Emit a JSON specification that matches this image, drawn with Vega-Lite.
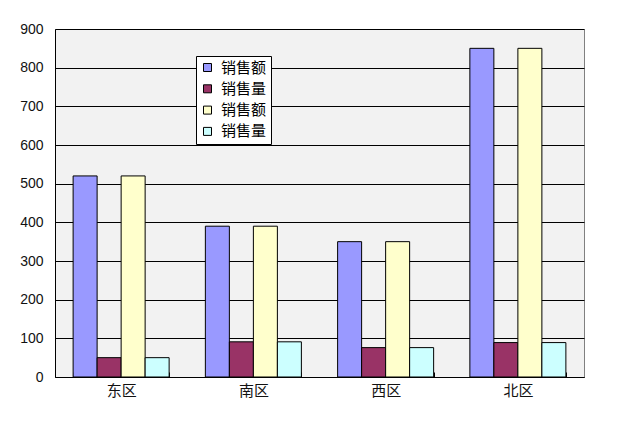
{
  "$schema": "https://vega.github.io/schema/vega-lite/v6.json",
  "width": 529,
  "height": 348,
  "autosize": {"type": "none"},
  "padding": {"left": 55, "top": 29, "right": 39, "bottom": 63},
  "background": "white",
  "data": {
    "values": [
      {"region": "东区", "series": "销售额1", "value": 520},
      {"region": "东区", "series": "销售量1", "value": 50},
      {"region": "东区", "series": "销售额2", "value": 520},
      {"region": "东区", "series": "销售量2", "value": 50},
      {"region": "南区", "series": "销售额1", "value": 390},
      {"region": "南区", "series": "销售量1", "value": 91},
      {"region": "南区", "series": "销售额2", "value": 390},
      {"region": "南区", "series": "销售量2", "value": 91},
      {"region": "西区", "series": "销售额1", "value": 350},
      {"region": "西区", "series": "销售量1", "value": 76},
      {"region": "西区", "series": "销售额2", "value": 350},
      {"region": "西区", "series": "销售量2", "value": 76},
      {"region": "北区", "series": "销售额1", "value": 850},
      {"region": "北区", "series": "销售量1", "value": 89},
      {"region": "北区", "series": "销售额2", "value": 850},
      {"region": "北区", "series": "销售量2", "value": 89}
    ]
  },
  "mark": {"type": "bar", "stroke": "black", "strokeWidth": 1},
  "encoding": {
    "x": {
      "field": "region",
      "type": "nominal",
      "sort": ["东区", "南区", "西区", "北区"],
      "scale": {"paddingInner": 0.274, "paddingOuter": 0.137},
      "axis": {
        "title": null,
        "labelAngle": 0,
        "labelFont": "Noto Sans CJK SC",
        "labelFontSize": 15,
        "labelColor": "#111111",
        "labelPadding": 11,
        "domainColor": "black",
        "ticks": true,
        "tickColor": "black",
        "tickWidth": 1,
        "tickOpacity": 1,
        "tickBand": "extent",
        "tickSize": -5
      }
    },
    "xOffset": {
      "field": "series",
      "type": "nominal",
      "sort": ["销售额1", "销售量1", "销售额2", "销售量2"],
      "scale": {"paddingInner": 0, "paddingOuter": 0}
    },
    "y": {
      "field": "value",
      "type": "quantitative",
      "scale": {"domain": [0, 900], "nice": false},
      "axis": {
        "title": null,
        "values": [0, 100, 200, 300, 400, 500, 600, 700, 800, 900],
        "grid": true,
        "gridColor": "black",
        "gridOpacity": 1,
        "ticks": false,
        "labelPadding": 12,
        "labelFont": "Liberation Sans",
        "labelFontSize": 14,
        "labelColor": "#111111",
        "domainColor": "black"
      }
    },
    "color": {
      "field": "series",
      "type": "nominal",
      "scale": {
        "domain": ["销售额1", "销售量1", "销售额2", "销售量2"],
        "range": ["#9999ff", "#993366", "#ffffcc", "#ccffff"]
      },
      "legend": {
        "orient": "none",
        "legendX": 141,
        "legendY": 27,
        "title": null,
        "fillColor": "white",
        "strokeColor": "black",
        "padding": 4,
        "symbolType": "square",
        "symbolSize": 64,
        "symbolStrokeColor": "black",
        "symbolStrokeWidth": 1,
        "symbolOpacity": 1,
        "labelFont": "Noto Sans CJK SC",
        "labelFontSize": 15,
        "labelColor": "black",
        "labelOffset": 6,
        "rowPadding": 5.3,
        "labelExpr": "substring(datum.label, 0, 3)"
      }
    }
  },
  "config": {
    "view": {"fill": "#f2f2f2", "stroke": "#808080"}
  }
}
